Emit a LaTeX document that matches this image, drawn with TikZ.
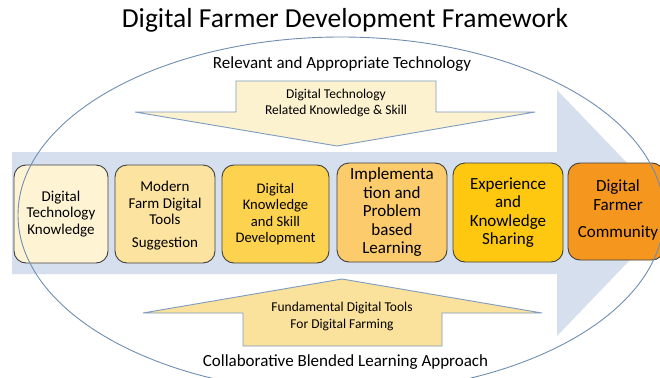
\documentclass[tikz,border=0pt]{standalone}
\usepackage{fontspec}
\setmainfont{Carlito}
\definecolor{bandblue}{HTML}{D6DFEE}
\definecolor{ringblue}{HTML}{6F8FB2}
\definecolor{arrowline}{HTML}{7E9BC0}
\definecolor{downfill}{HTML}{FDF2CF}
\definecolor{upfill}{HTML}{FAE29C}
\definecolor{boxline}{HTML}{404040}
\definecolor{cA}{HTML}{FEF4D4}
\definecolor{cB}{HTML}{FCE3A0}
\definecolor{cC}{HTML}{FCD24E}
\definecolor{cD}{HTML}{FBCB6C}
\definecolor{cE}{HTML}{FDC80F}
\definecolor{cF}{HTML}{F5961F}
\begin{document}
\begin{tikzpicture}[x=1pt,y=-1pt,
  stagebox/.style={draw=boxline, line width=0.9pt, rounded corners=12pt, inner sep=0pt, align=center},
  smallfont/.style={font=\fontsize{15}{16.5}\selectfont},
  bigfont/.style={font=\fontsize{17}{18.5}\selectfont},
  arrowtext/.style={align=center, inner sep=0pt, font=\fontsize{13.5}{16.5}\selectfont},
  labeltext/.style={inner sep=0pt, font=\fontsize{17}{20}\selectfont},
  shapeline/.style={draw=arrowline, line width=0.9pt, line join=miter}]
\path[use as bounding box] (0,0) rectangle (660,377);
\clip (0,0) rectangle (660,377);
\fill[white] (0,0) rectangle (660,377);
% big blue arrow
\fill[bandblue] (12,152) -- (557,152) -- (557,90) -- (675,213) -- (557,336) -- (557,274) -- (12,274) -- cycle;
% down arrow
\filldraw[shapeline, fill=downfill] (236,81) -- (436,81) -- (436,112) -- (535,112) -- (337,146) -- (135,112) -- (236,112) -- cycle;
% up arrow
\filldraw[shapeline, fill=upfill] (342,279) -- (542,313) -- (442,313) -- (442,346) -- (243,346) -- (243,313) -- (143,313) -- cycle;
% stage boxes
\node[stagebox, fill=cA, smallfont, minimum width=94pt, minimum height=98pt] (b1) at (61,214) {Digital\\Technology\\Knowledge};
\node[stagebox, fill=cB, minimum width=100pt, minimum height=98pt] (b2) at (165,214) {};
\node[smallfont, align=center, inner sep=0pt] (b2t) at (165,216) {Modern\\Farm Digital\\Tools\\[6.5pt]Suggestion};
\node[stagebox, fill=cC, font=\fontsize{14.6}{16.5}\selectfont, minimum width=107pt, minimum height=98pt] (b3) at (275.5,214) {Digital\\Knowledge\\and Skill\\Development};
\node[stagebox, fill=cD, bigfont, minimum width=110pt, minimum height=99pt] (b4) at (392,212.5) {Implementa\\tion and\\Problem\\based\\Learning};
\node[stagebox, fill=cE, bigfont, minimum width=110pt, minimum height=99pt] (b5) at (508,212.5) {Experience\\and\\Knowledge\\Sharing};
\node[stagebox, fill=cF, minimum width=96pt, minimum height=97pt] (b6) at (616,211.5) {};
\node[bigfont, align=center, inner sep=0pt] (b6t) at (618,210) {Digital\\Farmer\\[8.5pt]Community};
% ellipse
\draw[ringblue, line width=0.9pt] (341,215) ellipse [x radius=323, y radius=178];
% texts
\node[inner sep=0pt, font=\fontsize{27.5}{32}\selectfont] (title) at (345,20) {Digital Farmer Development Framework};
\node[labeltext] (top) at (342,64) {Relevant and Appropriate Technology};
\node[labeltext] (bottom) at (345.5,362) {Collaborative Blended Learning Approach};
\node[arrowtext] (downtxt) at (336,103) {Digital Technology\\Related Knowledge \& Skill};
\node[arrowtext] (uptxt) at (342,316.5) {Fundamental Digital Tools\\For Digital Farming};
\end{tikzpicture}
\end{document}
